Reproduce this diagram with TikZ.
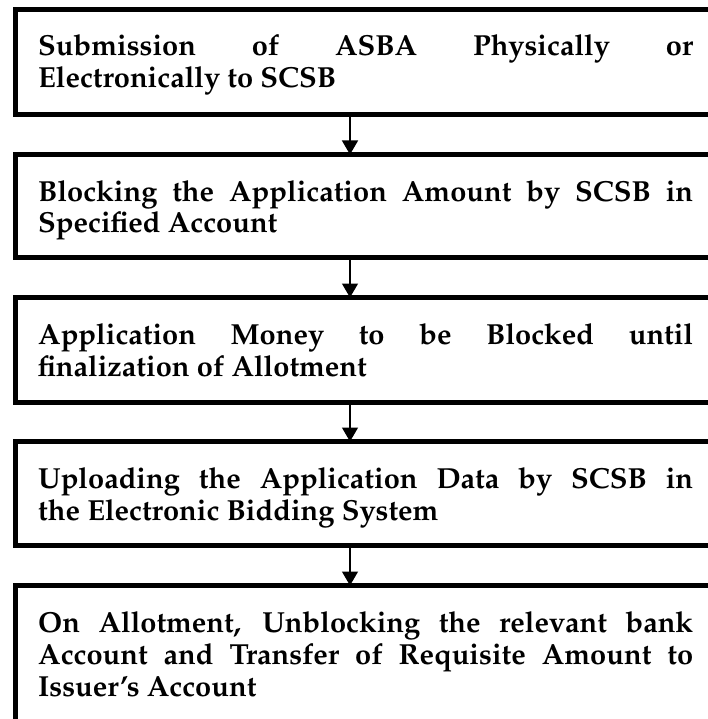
\documentclass[tikz,border=0pt]{standalone}
\usepackage[T1]{fontenc}
\renewcommand{\rmdefault}{ppl}
\usetikzlibrary{arrows.meta}
\begin{document}
\begin{tikzpicture}[x=1pt,y=-1pt,
  box/.style={draw, line width=5pt, rectangle, anchor=north west, outer sep=0pt, inner sep=0pt, minimum width=697pt},
  txt/.style={anchor=base west, inner sep=0pt, font=\fontsize{29}{32}\selectfont\bfseries},
  flow/.style={-{Triangle[length=14pt,width=16pt]}, line width=1.3pt}]
\useasboundingbox (0,0) rectangle (708,719);
\clip (0,0) rectangle (708,719);
\fill[white] (0,0) rectangle (708,719);
\coordinate (ax) at (350,0);
\node[box, minimum height=105pt] (b1) at (15,9.5) {};
\node[box, minimum height=103pt] (b2) at (15,154.5) {};
\node[box, minimum height=105pt] (b3) at (15,297.5) {};
\node[box, minimum height=104pt] (b4) at (15,441.5) {};
\node[box, minimum height=180pt] (b5) at (15,585.5) {};
\node[txt] (t1) at (38,56) {\begin{minipage}[t]{655pt}Submission of ASBA Physically or\linebreak Electronically to SCSB\end{minipage}};
\node[txt] (t2) at (38,201) {\begin{minipage}[t]{655pt}Blocking the Application Amount by SCSB in\linebreak Specified Account\end{minipage}};
\node[txt] (t3) at (38,344) {\begin{minipage}[t]{655pt}Application Money to be Blocked until\linebreak finalization of Allotment\end{minipage}};
\node[txt] (t4) at (38,488) {\begin{minipage}[t]{655pt}Uploading the Application Data by SCSB in\linebreak the Electronic Bidding System\end{minipage}};
\node[txt] (t5) at (38,632) {\begin{minipage}[t]{655pt}On Allotment, Unblocking the relevant bank\linebreak Account and Transfer of Requisite Amount to\linebreak Issuer's Account\end{minipage}};
\draw[flow] (b1.south -| ax) -- (b2.north -| ax);
\draw[flow] (b2.south -| ax) -- (b3.north -| ax);
\draw[flow] (b3.south -| ax) -- (b4.north -| ax);
\draw[flow] (b4.south -| ax) -- (b5.north -| ax);
\end{tikzpicture}
\end{document}
